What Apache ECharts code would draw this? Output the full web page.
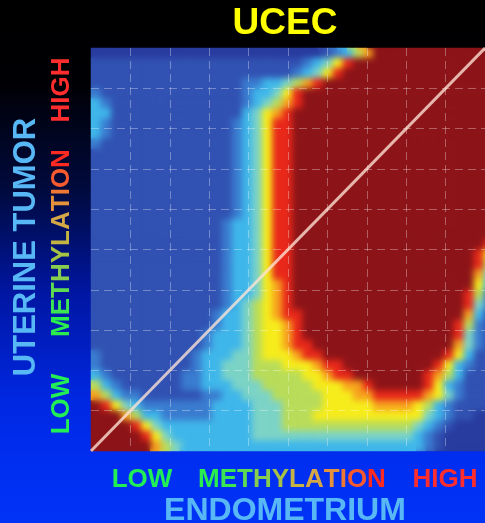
<!DOCTYPE html>
<html>
<head>
<meta charset="utf-8">
<script src="https://cdn.jsdelivr.net/npm/echarts@6/dist/echarts.min.js"></script>
<style>
  html, body { margin: 0; padding: 0; background: #000; overflow: hidden; }
  #stage { position: relative; width: 485px; height: 523px; overflow: hidden; }
  #base, #overlay { position: absolute; left: 0; top: 0; width: 485px; height: 523px; }
  #softClip { position: absolute; left: 91px; top: 48px; width: 394px; height: 403px; overflow: hidden; }
  #soft { position: absolute; left: 0; top: 0; width: 403px; height: 403px; filter: blur(3px); }
</style>
</head>
<body>
<div id="stage">
  <div id="base"></div>
  <div id="softClip"><div id="soft"></div></div>
  <div id="overlay"></div>
</div>
<script>
// Density levels on a 40 x 40 grid (0 = sparse, 9 = densest).
// Each string is one row of the plot, top row first, left to right;
// spaces only group the columns in tens for readability.
const densityRows = [
  "0000000000 0000000000 0001235799 9999999999",
  "1111111111 1111111111 1234689999 9999999999",
  "1111111111 1111111111 2346899999 9999999999",
  "1111111111 1111122334 5789999999 9999999999",
  "2111111111 1111123346 8999999999 9999999999",
  "3211111111 1111123457 8999999999 9999999999",
  "3311111111 1111134678 9999999999 9999999999",
  "3211111111 1111234688 9999999999 9999999999",
  "3211111111 1111234688 9999999999 9999999999",
  "2111111111 1111234688 9999999999 9999999999",
  "1111111111 1111234688 9999999999 9999999999",
  "1111111111 1111234688 9999999999 9999999999",
  "1111111111 1111234688 9999999999 9999999999",
  "1111111111 1111234688 9999999999 9999999999",
  "1111111111 1111234688 9999999999 9999999999",
  "1111111111 1111234688 9999999999 9999999999",
  "1111111111 1111234688 9999999999 9999999999",
  "1111111111 1112334688 9999999999 9999999999",
  "1111111111 1112334688 9999999999 9999999999",
  "1111111111 1112334688 9999999999 9999999998",
  "1111111111 1112334688 9999999999 9999999986",
  "1111111111 1112334688 9999999999 9999999985",
  "1111111111 1112334688 9999999999 9999999974",
  "1111111111 1112334678 9999999999 9999999963",
  "1111111111 1112334678 9999999999 9999999852",
  "1111111111 1112345678 9999999999 9999999842",
  "1111111111 1123345678 8999999999 9999999731",
  "1111111111 1123345667 8999999999 9999998521",
  "1111111111 1233345667 8999999999 9999998421",
  "1111111111 1233345667 8899999999 9999997421",
  "2111111111 2333445666 7889999999 9999986311",
  "2111111111 2334445556 6678899999 9999863211",
  "3211111112 2334445555 5667889999 9998753111",
  "5321111112 2333444555 5566677899 9998632111",
  "7532211111 1223344455 5556667788 8887642111",
  "9864322222 2233334445 5556666677 7765321111",
  "9997533222 2233334445 5566666666 6664321100",
  "9999864333 3333334445 5555555555 5543210000",
  "9999986433 3333334444 4444444444 4432100000",
  "9999997543 3333333333 3333333333 3332100000"
];

// Colour for each density level, sparse to dense.
const levelColors = [
  "#283b9e", "#3152b2", "#3a7ccf", "#3fb6ea", "#7cd3c6",
  "#b8dc5a", "#f6ec1c", "#f6a21e", "#e8281a", "#8c1418"
];

// Methylation scale (both axes run 0..1); the diagonal marks equal methylation.
const axisMin = 0;
const axisMax = 1;
const gridStep = 0.1;
const identityLine = [[0, 0], [1, 1]];

const titleText = "UCEC";
const yTitle = "UTERINE TUMOR";
const xTitle = "ENDOMETRIUM";
const scaleLow = "LOW";
const scaleHigh = "HIGH";
const scaleWord = "METHYLATION";
const scaleLetterColors = [
  "#2bee4e", "#3ce652", "#5ddc52", "#86cc4e", "#a6c244", "#c4b444",
  "#d4a846", "#e4923c", "#ee7834", "#f65a2e", "#ff2a22"
];

const cells = densityRows.map(r => r.replace(/ /g, ""));
const nRows = cells.length;
const nCols = cells[0].length;
const xCats = Array.from({ length: nCols }, (_, i) => i);
const yCats = Array.from({ length: nRows }, (_, i) => i);
const heatData = [];
cells.forEach((row, j) => {
  for (let i = 0; i < row.length; i++) {
    heatData.push([i, nRows - 1 - j, Number(row[i])]);
  }
});

const FONT = "Liberation Sans, Arial, sans-serif";
const plot = { left: 91, top: 48, width: 403, height: 403 };

function scaleRich(size) {
  const rich = {};
  let text = "";
  scaleWord.split("").forEach((ch, k) => {
    rich["c" + k] = { fill: scaleLetterColors[k], fontSize: size, fontWeight: "bold", fontFamily: FONT };
    text += "{c" + k + "|" + ch + "}";
  });
  return { text, rich };
}

function label(text, x, y, size, color, rotate) {
  return {
    type: "text", x, y, rotation: rotate ? Math.PI / 2 : 0, silent: true,
    style: { text, fill: color, fontSize: size, fontWeight: "bold", fontFamily: FONT,
             align: "center", verticalAlign: "middle" }
  };
}

function richLabel(x, y, size, rotate) {
  const r = scaleRich(size);
  return {
    type: "text", x, y, rotation: rotate ? Math.PI / 2 : 0, silent: true,
    style: { text: r.text, rich: r.rich, fontSize: size, fontWeight: "bold", fontFamily: FONT,
             align: "center", verticalAlign: "middle" }
  };
}

// Heatmap option shared by the base layer and the softened layer.
function heatOption(gridBox, background) {
  return {
    animation: false,
    backgroundColor: background,
    grid: Object.assign({ containLabel: false }, gridBox),
    xAxis: { type: "category", data: xCats, show: false },
    yAxis: { type: "category", data: yCats, show: false },
    visualMap: {
      type: "continuous", show: false, seriesIndex: 0, dimension: 2,
      min: 0, max: levelColors.length - 1,
      inRange: { color: levelColors }
    },
    series: [{
      type: "heatmap", data: heatData, silent: true, progressive: 0,
      emphasis: { disabled: true }
    }]
  };
}

const pageGradient = {
  type: "linear", x: 0, y: 0, x2: 0, y2: 1,
  colorStops: [
    { offset: 0.0, color: "#000000" },
    { offset: 0.16, color: "#000004" },
    { offset: 0.36, color: "#000a3c" },
    { offset: 0.56, color: "#0016a2" },
    { offset: 0.76, color: "#0027e0" },
    { offset: 0.88, color: "#002ef0" },
    { offset: 1.0, color: "#0033f6" }
  ]
};

// Base layer: page background, heatmap cells and all titles.
const base = echarts.init(document.getElementById("base"), null, { renderer: "canvas" });
const baseOpt = heatOption(plot, pageGradient);
baseOpt.graphic = [
  label(titleText, 285, 24, 37, "#ffff00", false),
  label(yTitle, 26, 247, 31, "#58b8f6", true),
  label(scaleHigh, 62, 90, 26, "#ff2d2d", true),
  richLabel(62, 243, 26, true),
  label(scaleLow, 62, 404, 26, "#22ee55", true),
  label(scaleLow, 142, 480, 26, "#22ee55", false),
  richLabel(292, 480, 26, false),
  label(scaleHigh, 445, 480, 26, "#ff2d2d", false),
  label(xTitle, 285, 511, 32, "#58b8f6", false)
];
base.setOption(baseOpt);

// Softened copy of the density field, laid exactly over the plot area.
const soft = echarts.init(document.getElementById("soft"), null, { renderer: "canvas" });
soft.setOption(heatOption({ left: 0, top: 0, width: 403, height: 403 }, "transparent"));

// Overlay: dashed grid and the equal-methylation diagonal.
const overlay = echarts.init(document.getElementById("overlay"), null, { renderer: "canvas" });
const valueAxis = {
  type: "value", min: axisMin, max: axisMax, interval: gridStep,
  axisLine: { show: false }, axisTick: { show: false }, axisLabel: { show: false },
  splitLine: { show: true, showMinLine: false, showMaxLine: false,
               lineStyle: { color: "rgba(255,255,255,0.32)", width: 1, type: [8, 5] } }
};
overlay.setOption({
  animation: false,
  backgroundColor: "transparent",
  grid: Object.assign({ containLabel: false }, plot),
  xAxis: valueAxis,
  yAxis: valueAxis,
  series: [{
    type: "line", data: identityLine, symbol: "none", silent: true,
    lineStyle: { color: "rgba(255,228,214,0.78)", width: 3 }
  }]
});
</script>
</body>
</html>
